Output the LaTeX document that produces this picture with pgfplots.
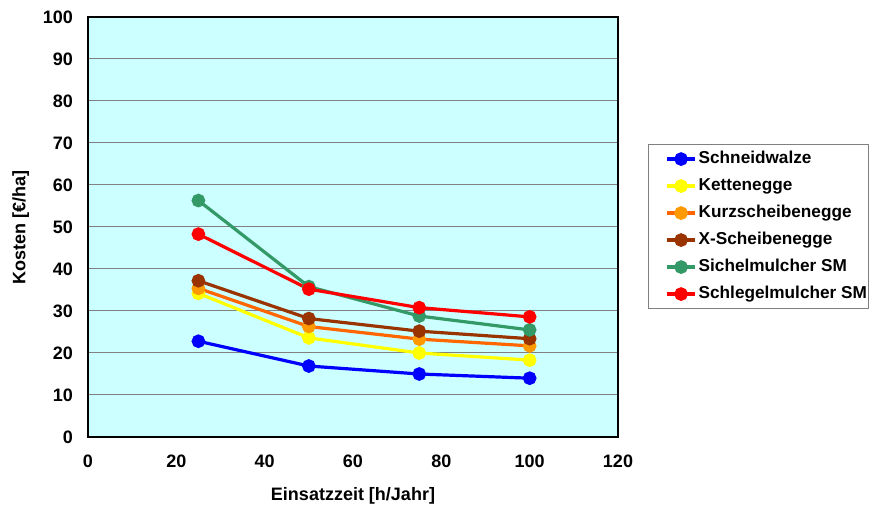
\documentclass[border=0pt]{standalone}
\usepackage{pgfplots}
\pgfplotsset{compat=1.18}
\usepackage{fontspec}
\setmainfont{Liberation Sans}
\definecolor{bgc}{HTML}{CCFFFF}
\definecolor{cblue}{HTML}{0000FF}
\definecolor{cyel}{HTML}{FFFF00}
\definecolor{corl}{HTML}{FF6600}
\definecolor{corm}{HTML}{FF9900}
\definecolor{cbrn}{HTML}{993300}
\definecolor{cgrn}{HTML}{339966}
\definecolor{cred}{HTML}{FF0000}
\begin{document}
\begin{tikzpicture}
\useasboundingbox (0,0) rectangle (439pt,254pt);
\begin{axis}[
  at={(44pt,35.5pt)}, anchor=south west,
  scale only axis, width=265pt, height=210pt,
  xmin=0, xmax=120, ymin=0, ymax=100,
  xtick={0,20,...,120}, ytick={0,10,...,100},
  axis background/.style={fill=bgc},
  ymajorgrids, grid style={gray, line width=0.5pt},
  axis line style={black, line width=0.6pt},
  major tick length=0pt,
  /pgf/number format/assume math mode=true,
  ticklabel style={font=\fontsize{9}{10}\selectfont\bfseries},
  xticklabel style={yshift=-5.5pt},
  yticklabel style={xshift=-4pt},
  xlabel={Einsatzzeit [h/Jahr]}, ylabel={Kosten [€/ha]},
  label style={font=\fontsize{9}{10}\selectfont\bfseries},
  xlabel style={yshift=-3pt},
  ylabel style={yshift=0pt},
  legend style={at={(1.0566,0.501)}, anchor=west, draw=gray, line width=0.5pt,
    font=\fontsize{8.6}{10}\selectfont\bfseries, row sep=0pt,
    inner xsep=0pt, inner ysep=0.5pt,
    nodes={text height=6.5pt, text depth=1.8pt, inner ysep=2.6pt, inner xsep=1pt}},
  legend cell align=left,
  legend image code/.code={\path (0pt,0pt); \draw[mark repeat=2,mark phase=2,#1] plot coordinates {(8.5pt,0pt) (15.5pt,0pt) (22.5pt,0pt)};},
  every axis plot/.append style={line width=1.6pt, mark=*, mark size=2.6pt},
]
\addplot[color=cblue, mark options={fill=cblue, draw=cblue}] coordinates {(25,22.8) (50,16.9) (75,15.0) (100,14.0)};
\addlegendentry{Schneidwalze}
\addplot[color=cyel, mark options={fill=cyel, draw=cyel}] coordinates {(25,34.2) (50,23.6) (75,20.0) (100,18.3)};
\addlegendentry{Kettenegge}
\addplot[color=corl, mark options={fill=corm, draw=corm}] coordinates {(25,35.4) (50,26.3) (75,23.3) (100,21.7)};
\addlegendentry{Kurzscheibenegge}
\addplot[color=cbrn, mark options={fill=cbrn, draw=cbrn}] coordinates {(25,37.2) (50,28.2) (75,25.2) (100,23.4)};
\addlegendentry{X-Scheibenegge}
\addplot[color=cgrn, mark options={fill=cgrn, draw=cgrn}] coordinates {(25,56.3) (50,35.8) (75,28.8) (100,25.5)};
\addlegendentry{Sichelmulcher SM}
\addplot[color=cred, mark options={fill=cred, draw=cred}] coordinates {(25,48.3) (50,35.2) (75,30.8) (100,28.6)};
\addlegendentry{Schlegelmulcher SM}
\end{axis}
\end{tikzpicture}
\end{document}
